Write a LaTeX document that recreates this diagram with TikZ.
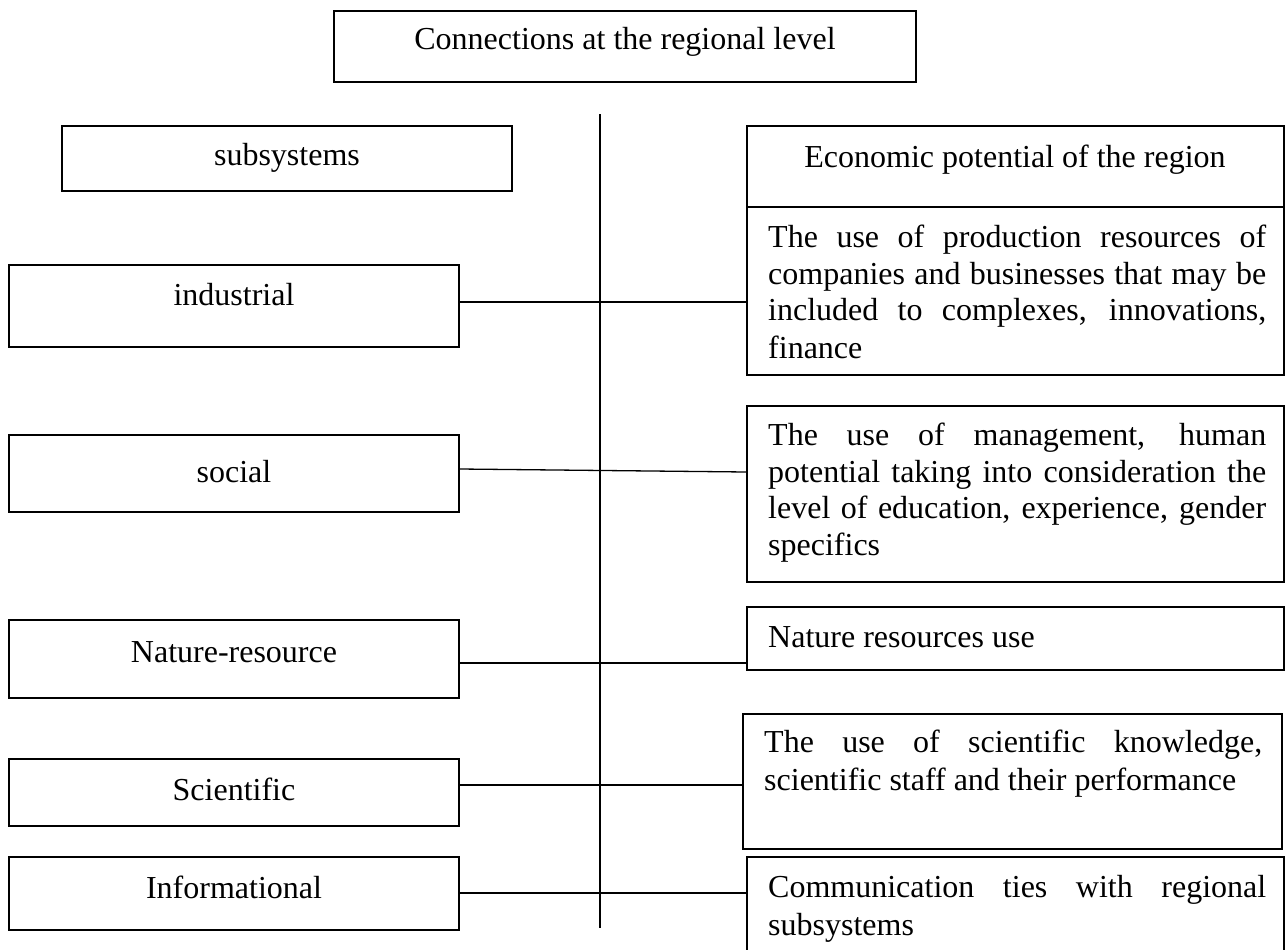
\documentclass[tikz,border=0pt]{standalone}
\usepackage{fontspec}
\setmainfont{Liberation Serif}
\newcommand\jline[1]{\makebox[498pt][s]{#1}}
\tikzset{
  box/.style={draw, line width=1.6pt, rectangle, inner sep=0pt},
  conn/.style={line width=1.3pt},
  txt/.style={font=\fontsize{32}{37}\selectfont, inner sep=0pt},
}
\begin{document}
\begin{tikzpicture}[x=1pt,y=-1pt]
\useasboundingbox (0,0) rectangle (1285,950);
\clip (0,0) rectangle (1285,950);
% top box
\node[box, minimum width=582pt, minimum height=71pt] (top) at (625,46.5) {};
\node[txt, anchor=base] at (625,50) {Connections at the regional level};
% vertical axis
\coordinate (vt) at (600,114);
\coordinate (vb) at (600,928);
\draw[conn] (vt) -- (vb);
% left column
\node[box, minimum width=450pt, minimum height=65pt] (sub) at (287,158.5) {};
\node[txt, anchor=base] at (287,165) {subsystems};
\node[box, minimum width=450pt, minimum height=82pt] (ind) at (234,306) {};
\node[txt, anchor=base] at (234,305) {industrial};
\node[box, minimum width=450pt, minimum height=77pt] (soc) at (234,473.5) {};
\node[txt, anchor=base] at (234,482) {social};
\node[box, minimum width=450pt, minimum height=78pt] (nat) at (234,659) {};
\node[txt, anchor=base] at (234,662) {Nature-resource};
\node[box, minimum width=450pt, minimum height=67pt] (sci) at (234,792.5) {};
\node[txt, anchor=base] at (234,800) {Scientific};
\node[box, minimum width=450pt, minimum height=73pt] (inf) at (234,893.5) {};
\node[txt, anchor=base] at (234,898) {Informational};
% right column
\node[box, minimum width=537pt, minimum height=81pt] (eco) at (1015.5,166.5) {};
\node[txt, anchor=base] at (1015,167) {Economic potential of the region};
\node[box, minimum width=537pt, minimum height=168pt] (t1) at (1015.5,291) {};
\node[txt, anchor=base west] at (768,247) {\jline{The use of production resources of}};
\node[txt, anchor=base west] at (768,284) {\jline{companies and businesses that may be}};
\node[txt, anchor=base west] at (768,320) {\jline{included to complexes, innovations,}};
\node[txt, anchor=base west] at (768,358) {finance};
\node[box, minimum width=537pt, minimum height=176pt] (t2) at (1015.5,494) {};
\node[txt, anchor=base west] at (768,445) {\jline{The use of management, human}};
\node[txt, anchor=base west] at (768,482) {\jline{potential taking into consideration the}};
\node[txt, anchor=base west] at (768,518) {\jline{level of education, experience, gender}};
\node[txt, anchor=base west] at (768,555) {specifics};
\node[box, minimum width=537pt, minimum height=63pt] (t3) at (1015.5,638.5) {};
\node[txt, anchor=base west] at (768,647) {Nature resources use};
\node[box, minimum width=539pt, minimum height=135pt] (t4) at (1012.5,781.5) {};
\node[txt, anchor=base west] at (764,752) {\jline{The use of scientific knowledge,}};
\node[txt, anchor=base west] at (764,790) {scientific staff and their performance};
\node[box, minimum width=537pt, minimum height=113pt] (t5) at (1015.5,913.5) {};
\node[txt, anchor=base west] at (768,897) {\jline{Communication ties with regional}};
\node[txt, anchor=base west] at (768,935) {subsystems};
% connectors
\draw[conn] ([yshift=4pt]ind.east) -- ([yshift=-11pt]t1.west);
\draw[conn] ([yshift=4.5pt]soc.east) -- ([yshift=22pt]t2.west);
\draw[conn] ([yshift=-4pt]nat.east) -- ([yshift=-24.5pt]t3.west);
\draw[conn] ([yshift=7.5pt]sci.east) -- ([yshift=-3.5pt]t4.west);
\draw[conn] ([yshift=0.5pt]inf.east) -- ([yshift=20.5pt]t5.west);
\end{tikzpicture}
\end{document}
